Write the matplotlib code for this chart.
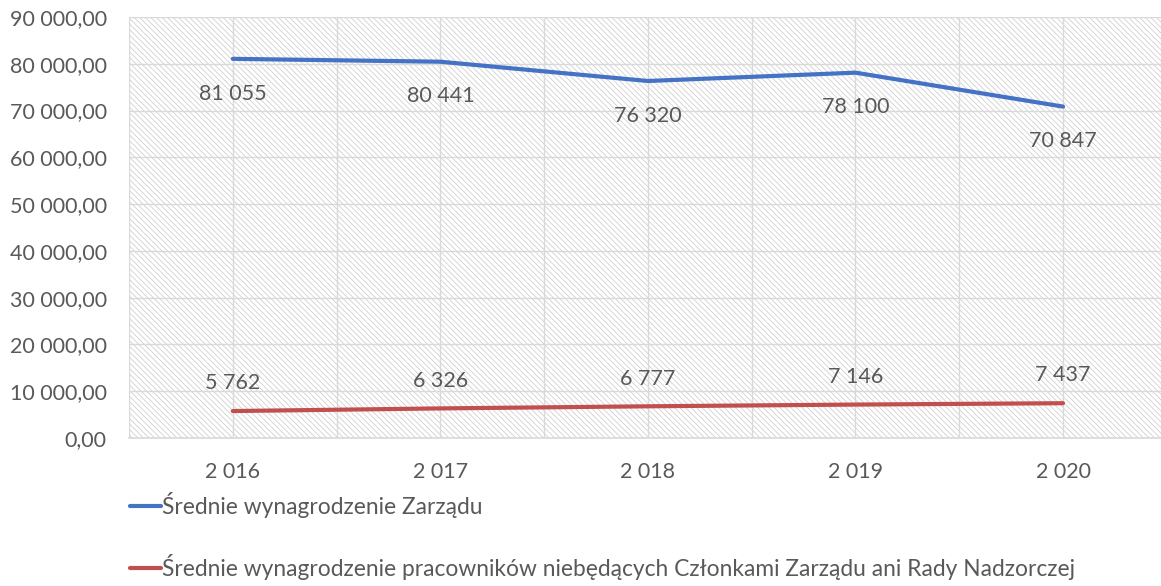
"""
Średnie wynagrodzenie Zarządu vs pracowników, lata 2016-2020
"""

import matplotlib
matplotlib.use('Agg')
import matplotlib.pyplot as plt
from matplotlib.patches import Rectangle
from matplotlib.ticker import FuncFormatter, MultipleLocator

plt.rcParams['font.family'] = ['Lato', 'DejaVu Sans']
plt.rcParams['hatch.linewidth'] = 0.5

# Dane
lata = ['2 016', '2 017', '2 018', '2 019', '2 020']
zarzad = [81055, 80441, 76320, 78100, 70847]
pracownicy = [5762, 6326, 6777, 7146, 7437]
etykiety_zarzad = ['81 055', '80 441', '76 320', '78 100', '70 847']
etykiety_pracownicy = ['5 762', '6 326', '6 777', '7 146', '7 437']
nazwy_serii = ['Średnie wynagrodzenie Zarządu',
               'Średnie wynagrodzenie pracowników niebędących Członkami Zarządu ani Rady Nadzorczej']

TEXT = '#595959'
GRID = '#D9D9D9'
BLUE = '#4472C4'
RED = '#C0504D'
FS = 15.5

fig = plt.figure(figsize=(11.61, 5.86), dpi=100)
ax = fig.add_axes([129 / 1161, 1 - 438 / 586, 1 - 129 / 1161, (438 - 17) / 586])

# Tło z kreskowaniem
ax.add_patch(Rectangle((0, 0), 1, 1, transform=ax.transAxes, facecolor='white',
                       edgecolor='#C8C8C8', hatch='\\' * 6, linewidth=0, zorder=0))

x = list(range(len(lata)))
l1, = ax.plot(x, zarzad, color=BLUE, lw=3, solid_capstyle='round', zorder=3)
l2, = ax.plot(x, pracownicy, color=RED, lw=3, solid_capstyle='round', zorder=3)

# Etykiety danych
for xi, v, t in zip(x, zarzad, etykiety_zarzad):
    ax.annotate(t, (xi, v), xytext=(0, -25), textcoords='offset points',
                ha='center', va='center', fontsize=FS, color=TEXT, zorder=4)
for xi, v, t in zip(x, pracownicy, etykiety_pracownicy):
    ax.annotate(t, (xi, v), xytext=(0, 20), textcoords='offset points',
                ha='center', va='center', fontsize=FS, color=TEXT, zorder=4)

ax.set_xlim(-0.5, 4.472)
ax.set_ylim(0, 90000)
ax.set_xticks(x)
ax.set_xticklabels(lata)
ax.xaxis.set_minor_locator(MultipleLocator(0.5))
ax.yaxis.set_major_locator(MultipleLocator(10000))
ax.yaxis.set_major_formatter(FuncFormatter(lambda v, p: f'{v:,.2f}'.replace(',', ' ').replace('.', ',')))

ax.grid(True, which='major', axis='y', color=GRID, lw=1, zorder=1)
ax.grid(True, which='both', axis='x', color=GRID, lw=1, zorder=1)
ax.set_axisbelow(True)

for s in ['top', 'right', 'left']:
    ax.spines[s].set_visible(False)
ax.spines['bottom'].set_color(GRID)
ax.spines['bottom'].set_linewidth(1.2)

ax.tick_params(axis='both', which='both', length=0, labelsize=FS, colors=TEXT)
ax.tick_params(axis='x', pad=17)
ax.tick_params(axis='y', pad=16)

# Legenda pod wykresem
fig.legend([l1, l2], nazwy_serii, loc='upper left', bbox_to_anchor=(130 / 1161, 1 - 492 / 586),
           frameon=False, fontsize=16.4, labelcolor=TEXT, handlelength=1.35, handletextpad=0.05,
           labelspacing=1.6, borderpad=0, borderaxespad=0)

plt.savefig('out.png', dpi=100)
plt.close()
